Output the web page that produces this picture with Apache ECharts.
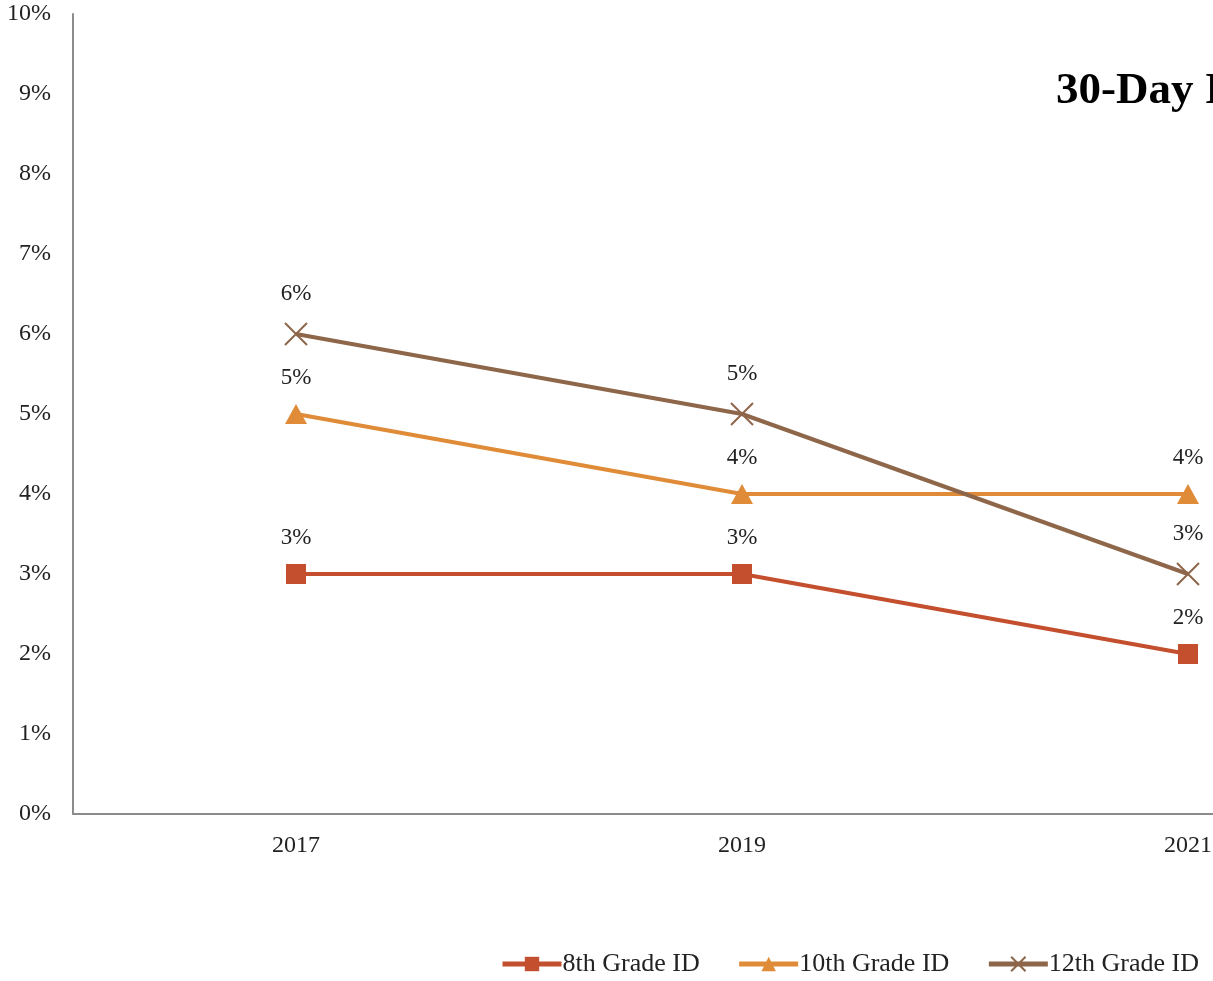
<!DOCTYPE html>
<html><head><meta charset="utf-8">
<script src="https://cdn.jsdelivr.net/npm/echarts@6/dist/echarts.min.js"></script>
<style>html,body{margin:0;padding:0;overflow:hidden;background:#fff;width:1213px;height:981px}#c{width:1760px;height:981px}</style>
</head><body><div id="c"></div>
<script>
const categories = ['2017', '2019', '2021'];
const grade8 = [3, 3, 2];
const grade10 = [5, 4, 4];
const grade12 = [6, 5, 3];
const yTicks = [0,1,2,3,4,5,6,7,8,9,10];
const titleText = '30-Day Inhalant Use';

const font = 'Liberation Serif';
const chart = echarts.init(document.getElementById('c'), null, {renderer: 'canvas'});
const lbl = {show: true, position: 'top', distance: 15, color: '#222', fontFamily: font, fontSize: 23, formatter: p => p.value + '%'};
const legendLine = w => ({lineStyle: {width: w}});
chart.setOption({
  animation: false,
  textStyle: {fontFamily: font},
  title: {text: titleText, left: 1051, top: 64, textStyle: {fontFamily: font, fontSize: 45, fontWeight: 'bold', color: '#000'}},
  legend: {
    left: 495, top: 946, itemWidth: 59, itemHeight: 18, itemGap: 37,
    textStyle: {fontFamily: font, fontSize: 26, color: '#222', padding: [0,0,0,-4]},
    data: [
      Object.assign({name: '8th Grade ID'}, legendLine(5)),
      Object.assign({name: '10th Grade ID'}, legendLine(5)),
      Object.assign({name: '12th Grade ID'}, legendLine(5))
    ]
  },
  grid: {left: 73, top: 14, width: 1338, height: 800, containLabel: false},
  xAxis: {
    type: 'category', data: categories, boundaryGap: true,
    axisLine: {lineStyle: {color: '#8c8c8c', width: 2}},
    axisTick: {show: false},
    axisLabel: {color: '#222', fontFamily: font, fontSize: 24, margin: 20}
  },
  yAxis: {
    type: 'value', min: 0, max: 10, interval: 1,
    axisLine: {show: true, lineStyle: {color: '#8c8c8c', width: 2}},
    axisTick: {show: false},
    splitLine: {show: false},
    axisLabel: {color: '#222', fontFamily: font, fontSize: 24, margin: 22, formatter: v => v + '%'}
  },
  series: [
    {name: '8th Grade ID', type: 'line', data: grade8, symbol: 'rect', symbolSize: 20,
     lineStyle: {color: '#C44F2E', width: 4}, itemStyle: {color: '#C44F2E'}, label: lbl},
    {name: '10th Grade ID', type: 'line', data: grade10, symbol: 'triangle', symbolSize: [22, 20],
     lineStyle: {color: '#E08B38', width: 4}, itemStyle: {color: '#E08B38'}, label: lbl},
    {name: '12th Grade ID', type: 'line', data: grade12, symbol: 'path://M0,0L10,10M10,0L0,10', symbolSize: 22,
     lineStyle: {color: '#8E6649', width: 4}, itemStyle: {color: 'none', borderColor: '#8E6649', borderWidth: 2}, label: lbl}
  ]
});
</script></body></html>
